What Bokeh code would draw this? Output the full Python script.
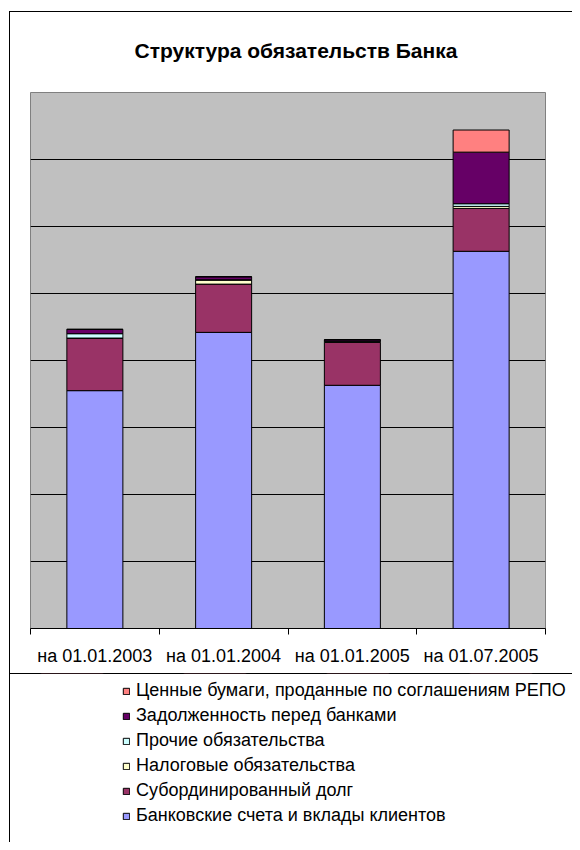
from bokeh.plotting import figure
from bokeh.models import (ColumnDataSource, FixedTicker, Legend, LegendItem, Range1d)
from bokeh.embed import file_html
from bokeh.resources import INLINE

# ---- data (units = one gridline step; the chart has no value axis) ----
categories = ["на 01.01.2003", "на 01.01.2004", "на 01.01.2005", "на 01.07.2005"]
series_names = [
    "Банковские счета и вклады клиентов",
    "Субординированный долг",
    "Налоговые обязательства",
    "Прочие обязательства",
    "Задолженность перед банками",
    "Ценные бумаги, проданные по соглашениям РЕПО",
]
deposits = [3.55, 4.42, 3.63, 5.63]
subordinated = [0.78, 0.72, 0.64, 0.64]
tax = [0.005, 0.06, 0.01, 0.03]
other = [0.065, 0.005, 0.01, 0.04]
interbank = [0.065, 0.045, 0.02, 0.77]
repo = [0.0, 0.0, 0.0, 0.33]
colors = ["#9999FF", "#993366", "#FFFFCC", "#CCFFFF", "#660066", "#FF8080"]
y_max = 8

keys = ["deposits", "subordinated", "tax", "other", "interbank", "repo"]
x = [i + 0.5 for i in range(len(categories))]
src = ColumnDataSource(dict(x=x, deposits=deposits, subordinated=subordinated,
                            tax=tax, other=other, interbank=interbank, repo=repo))

FONT = "Liberation Sans"
LINE = "linear-gradient(#000,#000)"

# ---------------- chart ----------------
p = figure(width=572, height=673, output_backend="svg", toolbar_location=None,
           x_range=Range1d(0, len(categories)), y_range=Range1d(0, y_max),
           min_border_left=30, min_border_right=27, min_border_top=92,
           min_border_bottom=45)

# chart border (left and top edges) drawn as the element's background
p.border_fill_color = None
p.styles = {
    "background-color": "white",
    "background-image": f"{LINE}, {LINE}",
    "background-size": "1px 100%, 100% 1px",
    "background-position": "9px 11px, 9px 11px",
    "background-repeat": "no-repeat",
}

p.title.text = "Структура обязательств Банка"
p.title.align = "left"
p.title.offset = 104
p.title.standoff = 61
p.title.text_font = FONT
p.title.text_font_size = "21px"
p.title.text_font_style = "bold"
p.title.text_color = "black"

p.background_fill_color = "#C0C0C0"
p.outline_line_color = "#808080"
p.outline_line_width = 1

renderers = p.vbar_stack(keys, x="x", width=0.435, source=src,
                         fill_color=colors, line_color="black", line_width=1)

p.yaxis.visible = False
p.xgrid.visible = False
p.ygrid.ticker = FixedTicker(ticks=list(range(1, y_max)))
p.ygrid.grid_line_color = "black"
p.ygrid.grid_line_width = 1

xa = p.xaxis[0]
xa.ticker = FixedTicker(ticks=x, minor_ticks=list(range(len(categories) + 1)))
xa.major_label_overrides = {xi: c for xi, c in zip(x, categories)}
xa.axis_line_color = "black"
xa.major_tick_out = 0
xa.major_tick_in = 0
xa.minor_tick_out = 6
xa.minor_tick_in = 0
xa.minor_tick_line_color = "black"
xa.major_label_standoff = 11
xa.major_label_text_font = FONT
xa.major_label_text_font_size = "18px"
xa.major_label_text_color = "black"

# ---------------- legend panel (separate root below the chart) ----------------
# Same series drawn again, but the y range lies below zero so no bar is in view:
# the renderers only supply the legend swatches.
q = figure(width=572, height=169, output_backend="svg", toolbar_location=None,
           x_range=Range1d(0, len(categories)), y_range=Range1d(-2 * y_max, -y_max),
           x_axis_type=None, y_axis_type=None,
           min_border_left=0, min_border_right=0, min_border_top=0,
           min_border_bottom=0)
q.grid.visible = False
q.outline_line_color = None
q.border_fill_color = None
q.background_fill_color = None
q.styles = {
    "background-color": "white",
    "background-image": f"{LINE}, {LINE}",
    "background-size": "1px 100%, 100% 1px",
    "background-position": "9px 0px, 9px 0px",
    "background-repeat": "no-repeat",
}

swatches = q.vbar_stack(keys, x="x", width=0.435, source=src,
                        fill_color=colors, line_color="black", line_width=1)
items = [LegendItem(label=name, renderers=[r])
         for name, r in zip(series_names, swatches)][::-1]
legend = Legend(items=items, location=(122, 16), glyph_width=8, glyph_height=8,
                label_standoff=6, label_height=21, spacing=4, padding=0, margin=0,
                border_line_color=None, background_fill_alpha=0,
                label_text_font=FONT, label_text_font_size="18px",
                label_text_color="black")
q.add_layout(legend, "center")

open("out.html", "w").write(file_html([p, q], INLINE))
